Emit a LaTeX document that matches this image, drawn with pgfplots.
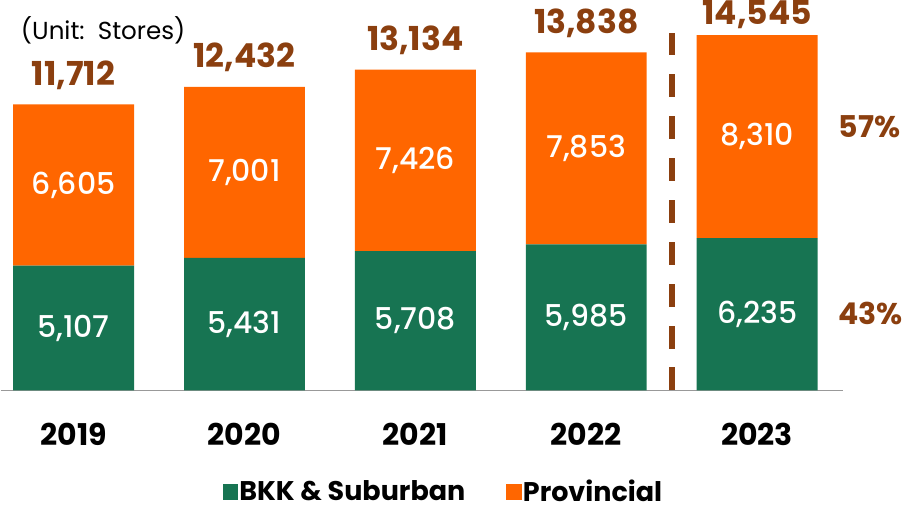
\documentclass[border=0pt]{standalone}
\usepackage{fontspec}
\setmainfont{Poppins}
\newfontfamily\pmed{Poppins Medium}
\usepackage{pgfplots}
\pgfplotsset{compat=1.18}
\definecolor{bkk}{HTML}{177452}
\definecolor{prov}{HTML}{FF6600}
\definecolor{brn}{HTML}{8B3F0F}
\newcommand{\fs}[1]{\fontsize{#1}{#1}\selectfont}
\begin{document}
\begin{tikzpicture}
\begin{axis}[
  scale only axis, width=421.5pt, height=195.25pt,
  xmin=-0.427, xmax=4.503, ymin=0, ymax=15977,
  ybar stacked, bar width=60.5pt,
  axis x line=bottom, axis y line=none,
  x axis line style={draw=black!40, line width=0.6pt, -},
  xtick={0,1,2,3,4}, xticklabels={2019,2020,2021,2022,2023},
  major tick length=0pt,
  xticklabel style={font=\bfseries\fs{15}, anchor=center, yshift=-22pt},
  clip=false,
  legend style={at={(0.525,-0.26)}, anchor=center, draw=none, fill=none,
    inner sep=0pt, outer sep=0pt,
    legend columns=2, font=\bfseries\fs{13.5},
    nodes={inner sep=0.5pt},
    /tikz/every even column/.append style={column sep=20pt}},
  legend image code/.code={\fill[#1] (-2.5pt,-3.9pt) rectangle (5.3pt,3.9pt);},
  /pgf/number format/1000 sep={,},
  /pgf/number format/assume math mode=true,
]
\addplot[fill=bkk, draw=none, point meta=rawy, nodes near coords,
  every node near coord/.style={anchor=center, text=white, font=\pmed\fs{15}}]
  coordinates {(0,5107) (1,5431) (2,5708) (3,5985) (4,6235)};
\addplot[fill=prov, draw=none, point meta=rawy, nodes near coords,
  every node near coord/.style={anchor=center, text=white, font=\pmed\fs{15}}]
  coordinates {(0,6605) (1,7001) (2,7426) (3,7853) (4,8310)};
\addplot[fill=none, draw=none, point meta=explicit, nodes near coords,
  visualization depends on=x \as \xx,
  every node near coord/.style={anchor=center, inner sep=0pt, text=brn,
    font=\bfseries\fs{16.5}, yshift={14.5pt-4pt*(\xx>3.5)}}]
  coordinates {(0,1) [11712] (1,1) [12432] (2,1) [13134] (3,1) [13838] (4,1) [14545]};
\legend{BKK \& Suburban, Provincial}
\draw[brn, line width=3pt, dash pattern=on 11.5pt off 9.5pt]
  (axis cs:3.5,0) -- (axis cs:3.5,14650);
\node[anchor=west, inner sep=0pt, font=\fs{12.3}] at (axis cs:-0.31,14730) {(Unit:~~Stores)};
\node[anchor=west, inner sep=0pt, text=brn, font=\bfseries\fs{15}] at (axis cs:4.474,10800) {57\%};
\node[anchor=west, inner sep=0pt, text=brn, font=\bfseries\fs{15}] at (axis cs:4.474,3154) {43\%};
\coordinate (bl) at (axis cs:-0.427,-4848);
\coordinate (tr) at (axis cs:4.871,15977);
\end{axis}
\path (bl) rectangle (tr);
\end{tikzpicture}
\end{document}
